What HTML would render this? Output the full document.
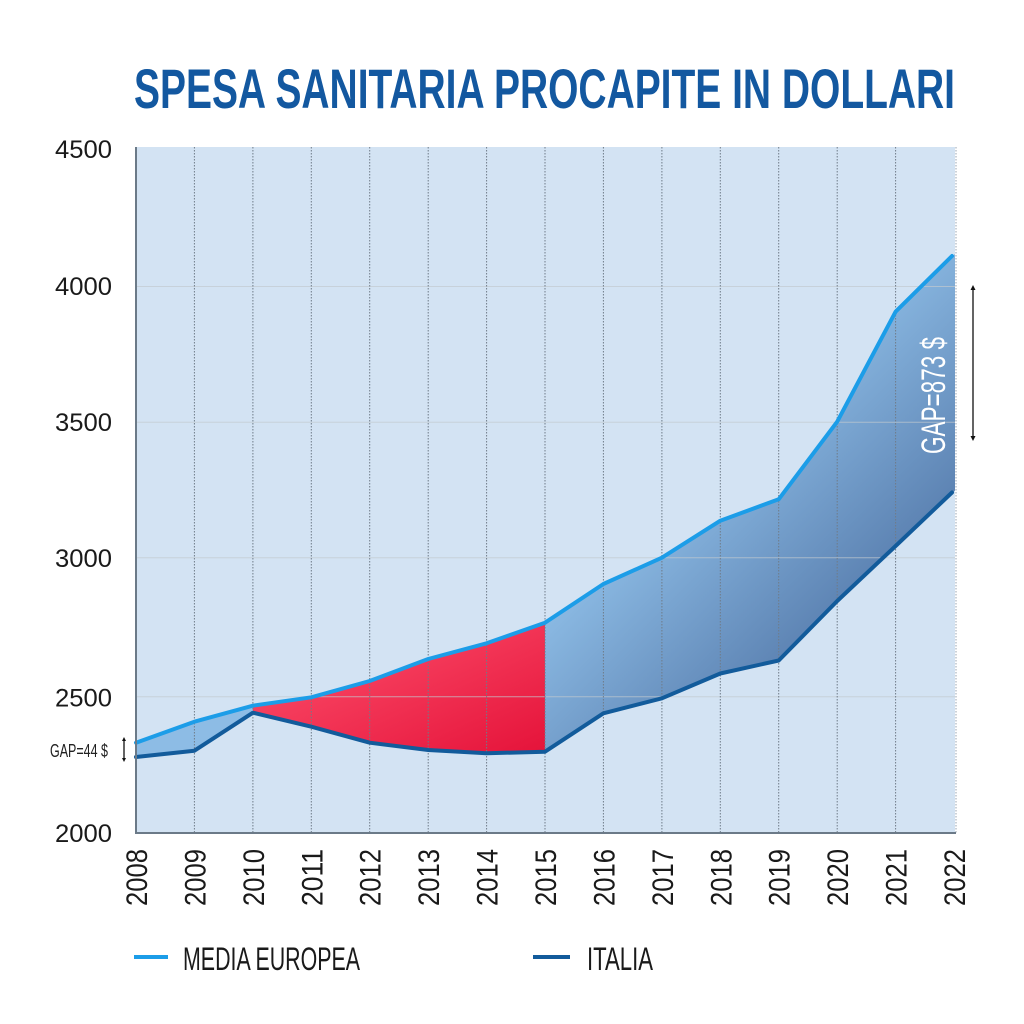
<!DOCTYPE html>
<html><head><meta charset="utf-8">
<style>
html,body{margin:0;padding:0;background:#fff;}
svg{display:block;}
text{font-family:"Liberation Sans",sans-serif;}
</style></head>
<body>
<svg width="1024" height="1024" viewBox="0 0 1024 1024" xmlns="http://www.w3.org/2000/svg">
<defs>
<linearGradient id="gb" gradientUnits="userSpaceOnUse" x1="575" y1="575" x2="730" y2="730">
<stop offset="0" stop-color="#8dbce5"/>
<stop offset="1" stop-color="#5b81b1"/>
</linearGradient>
<linearGradient id="gr" x1="0" y1="0" x2="1" y2="1">
<stop offset="0" stop-color="#ff5570"/>
<stop offset="1" stop-color="#e5133a"/>
</linearGradient>
</defs>
<rect width="1024" height="1024" fill="#fff"/>
<text x="134" y="108" font-size="56" font-weight="bold" fill="#1358a0" textLength="821" lengthAdjust="spacingAndGlyphs">SPESA SANITARIA PROCAPITE IN DOLLARI</text>

<rect x="136" y="147" width="819" height="686" fill="#d3e3f3"/>

<!-- fills -->
<polygon fill="url(#gb)" points="136,742.7 194.4,721.7 252.9,705.7 252.9,712.7 194.4,750.7 136,757"/>
<polygon fill="url(#gr)" points="252.9,705.7 311.3,697.3 369.7,681 428.2,659 486.6,643.3 545,622.7 545,751.7 486.6,753.3 428.2,750 369.7,742.7 311.3,726.7 252.9,712.7"/>
<polygon fill="url(#gb)" points="545,622.7 603.4,584 661.9,557.7 720.3,520.7 778.7,499.3 837.2,421.7 895.6,311.7 955,254 955,490.5 895.6,546 837.2,601 778.7,660.5 720.3,673.5 661.9,698.3 603.4,713.3 545,751.7"/>

<!-- horizontal grid -->
<g stroke="#c2c9cf" stroke-opacity="0.7" stroke-width="1">
<line x1="136" y1="286.5" x2="955" y2="286.5"/>
<line x1="136" y1="422.3" x2="955" y2="422.3"/>
<line x1="136" y1="557.7" x2="955" y2="557.7"/>
<line x1="136" y1="696.7" x2="955" y2="696.7"/>
</g>
<!-- vertical dotted grid -->
<g stroke="#6f7b88" stroke-width="1" stroke-dasharray="1.5,1.5">
<line x1="194.4" y1="147" x2="194.4" y2="833"/>
<line x1="252.9" y1="147" x2="252.9" y2="833"/>
<line x1="311.3" y1="147" x2="311.3" y2="833"/>
<line x1="369.7" y1="147" x2="369.7" y2="833"/>
<line x1="428.2" y1="147" x2="428.2" y2="833"/>
<line x1="486.6" y1="147" x2="486.6" y2="833"/>
<line x1="545" y1="147" x2="545" y2="833"/>
<line x1="603.4" y1="147" x2="603.4" y2="833"/>
<line x1="661.9" y1="147" x2="661.9" y2="833"/>
<line x1="720.3" y1="147" x2="720.3" y2="833"/>
<line x1="778.7" y1="147" x2="778.7" y2="833"/>
<line x1="837.2" y1="147" x2="837.2" y2="833"/>
<line x1="895.6" y1="147" x2="895.6" y2="833"/>
<line x1="956" y1="147" x2="956" y2="833" stroke="#9aa5b0"/>
</g>

<!-- lines -->
<polyline fill="none" stroke="#125b9b" stroke-width="4" stroke-linejoin="round" stroke-linecap="round" points="136,757 194.4,750.7 252.9,712.7 311.3,726.7 369.7,742.7 428.2,750 486.6,753.3 545,751.7 603.4,713.3 661.9,698.3 720.3,673.5 778.7,660.5 837.2,601 895.6,546 952,492.5"/>
<polyline fill="none" stroke="#1c9de8" stroke-width="4" stroke-linejoin="round" stroke-linecap="round" points="136,742.7 194.4,721.7 252.9,705.7 311.3,697.3 369.7,681 428.2,659 486.6,643.3 545,622.7 603.4,584 661.9,557.7 720.3,520.7 778.7,499.3 837.2,421.7 895.6,311.7 952,256"/>

<!-- axes -->
<line x1="136" y1="147" x2="136" y2="834" stroke="#6b7a88" stroke-width="2"/>
<line x1="135" y1="833" x2="956" y2="833" stroke="#6b7a88" stroke-width="2"/>

<!-- y labels -->
<g font-size="25" fill="#1a1a1a">
<text x="55" y="158" textLength="57" lengthAdjust="spacingAndGlyphs">4500</text>
<text x="55" y="295" textLength="57" lengthAdjust="spacingAndGlyphs">4000</text>
<text x="55" y="431" textLength="57" lengthAdjust="spacingAndGlyphs">3500</text>
<text x="55" y="567" textLength="57" lengthAdjust="spacingAndGlyphs">3000</text>
<text x="55" y="706.5" textLength="57" lengthAdjust="spacingAndGlyphs">2500</text>
<text x="55" y="842" textLength="57" lengthAdjust="spacingAndGlyphs">2000</text>
</g>

<!-- x labels -->
<g font-size="30" fill="#1a1a1a">
<text transform="translate(147,906) rotate(-90)" textLength="57" lengthAdjust="spacingAndGlyphs">2008</text>
<text transform="translate(205.4,906) rotate(-90)" textLength="57" lengthAdjust="spacingAndGlyphs">2009</text>
<text transform="translate(263.9,906) rotate(-90)" textLength="57" lengthAdjust="spacingAndGlyphs">2010</text>
<text transform="translate(322.3,906) rotate(-90)" textLength="57" lengthAdjust="spacingAndGlyphs">2011</text>
<text transform="translate(380.7,906) rotate(-90)" textLength="57" lengthAdjust="spacingAndGlyphs">2012</text>
<text transform="translate(439.2,906) rotate(-90)" textLength="57" lengthAdjust="spacingAndGlyphs">2013</text>
<text transform="translate(497.6,906) rotate(-90)" textLength="57" lengthAdjust="spacingAndGlyphs">2014</text>
<text transform="translate(556,906) rotate(-90)" textLength="57" lengthAdjust="spacingAndGlyphs">2015</text>
<text transform="translate(614.4,906) rotate(-90)" textLength="57" lengthAdjust="spacingAndGlyphs">2016</text>
<text transform="translate(672.9,906) rotate(-90)" textLength="57" lengthAdjust="spacingAndGlyphs">2017</text>
<text transform="translate(731.3,906) rotate(-90)" textLength="57" lengthAdjust="spacingAndGlyphs">2018</text>
<text transform="translate(789.7,906) rotate(-90)" textLength="57" lengthAdjust="spacingAndGlyphs">2019</text>
<text transform="translate(848.2,906) rotate(-90)" textLength="57" lengthAdjust="spacingAndGlyphs">2020</text>
<text transform="translate(906.6,906) rotate(-90)" textLength="57" lengthAdjust="spacingAndGlyphs">2021</text>
<text transform="translate(965,906) rotate(-90)" textLength="57" lengthAdjust="spacingAndGlyphs">2022</text>
</g>

<!-- GAP annotations -->
<text transform="translate(945,454) rotate(-90)" font-size="34" fill="#ffffff" textLength="117" lengthAdjust="spacingAndGlyphs">GAP=873 $</text>
<g stroke="#111" stroke-width="1.3" fill="#111">
<line x1="973" y1="289" x2="973" y2="437"/>
<polygon points="973,285 970.5,290 975.5,290" stroke="none"/>
<polygon points="973,441 970.5,436 975.5,436" stroke="none"/>
<line x1="124" y1="740" x2="124" y2="759"/>
<polygon points="124,737 122,741 126,741" stroke="none"/>
<polygon points="124,762 122,758 126,758" stroke="none"/>
</g>
<text x="50" y="757" font-size="18" fill="#222" textLength="58" lengthAdjust="spacingAndGlyphs">GAP=44 $</text>

<!-- legend -->
<line x1="134" y1="957" x2="168" y2="957" stroke="#1c9de8" stroke-width="4"/>
<text x="183" y="970" font-size="32" fill="#1a1a1a" textLength="177" lengthAdjust="spacingAndGlyphs">MEDIA EUROPEA</text>
<line x1="533" y1="957" x2="570" y2="957" stroke="#125b9b" stroke-width="4"/>
<text x="587" y="970" font-size="32" fill="#1a1a1a" textLength="66" lengthAdjust="spacingAndGlyphs">ITALIA</text>
</svg>
</body></html>
